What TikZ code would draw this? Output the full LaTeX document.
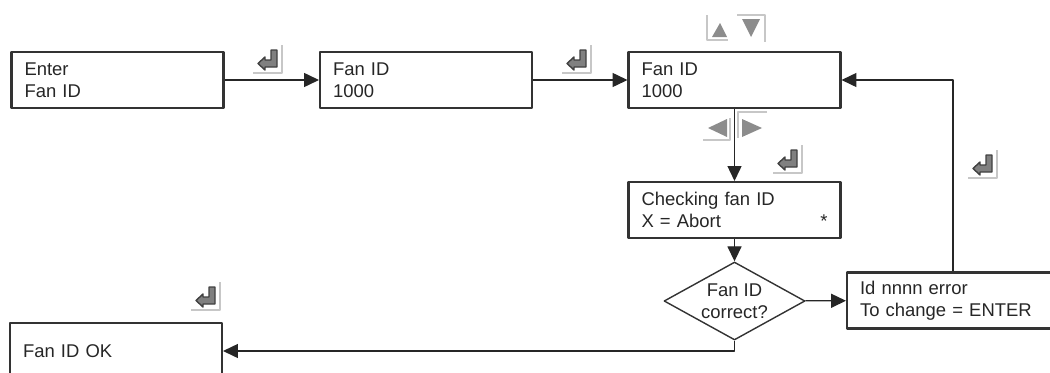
\documentclass[tikz,border=0pt]{standalone}
\usepackage{fontspec}
\setmainfont{Liberation Sans}
\usetikzlibrary{arrows.meta,shapes.geometric}

\begin{document}
\begin{tikzpicture}[x=0.02cm,y=-0.02cm,line join=round,
		screen/.style={rectangle,draw=black!80,line width=1.2pt,minimum width=4.24cm,minimum height=1.12cm,
			text width=3.72cm,inner xsep=0.26cm,align=left,text=black!85,font=\fontsize{10.5pt}{12.5pt}\selectfont},
		decision/.style={diamond,draw=black!80,line width=0.8pt,aspect=1.81,inner sep=0pt,minimum width=2.82cm,
			minimum height=1.56cm,align=center,text=black!85,font=\fontsize{10.5pt}{12.5pt}\selectfont},
		conn/.style={-{Triangle[length=8.5pt,width=8pt]},line width=0.7pt,black!85},
		keyedge/.style={draw=black!22,line width=1pt},
		keyglyph/.style={fill=black!50,draw=black!75,line width=0.8pt},
		enterkey/.pic={\draw[keyedge] (29,0)--(29,28)--(0,28);
			\filldraw[keyglyph] (18,5)--(24,5)--(24,22)--(12,22)--(12,25)--(5,18.5)--(12,12)--(12,15)--(18,15)--cycle;},
		upkey/.pic={\draw[keyedge] (0,1)--(0,26)--(21,26);
			\fill[black!45] (5,23)--(20,23)--(13,9)--cycle;},
		downkey/.pic={\draw[keyedge] (0,0)--(28,0)--(28,27);
			\fill[black!45] (5,4)--(23,4)--(14,22)--cycle;},
		leftkey/.pic={\draw[keyedge] (0,28)--(27,28)--(27,6);
			\fill[black!45] (24,7)--(24,25)--(5,16)--cycle;},
		rightkey/.pic={\draw[keyedge] (29,0)--(0,0)--(0,26);
			\fill[black!45] (4,7)--(4,25)--(24,16)--cycle;}]
	\useasboundingbox (0,0) rectangle (1050,372);
	\node[screen] (enter) at (117.5,80) {Enter\\Fan ID};
	\node[screen] (fanid) at (426,80) {Fan ID\\1000};
	\node[screen] (fanidset) at (734.5,80) {Fan ID\\1000};
	\node[screen] (check) at (734.5,210) {Checking fan ID\\X = Abort\hfill*};
	\node[decision] (correct) at (734.5,301) {Fan ID\\correct?};
	\node[screen] (error) at (953,300.5) {Id nnnn error\\To change = ENTER};
	\node[screen] (ok) at (116,351) {Fan ID OK};
	\pic at (253,45) {enterkey};
	\pic at (562,45) {enterkey};
	\pic at (773,145) {enterkey};
	\pic at (968,150) {enterkey};
	\pic at (191,282) {enterkey};
	\pic at (707,14) {upkey};
	\pic at (737,15) {downkey};
	\pic at (703,112) {leftkey};
	\pic at (738,112) {rightkey};
	\draw[conn] (enter) -- (fanid);
	\draw[conn] (fanid) -- (fanidset);
	\draw[conn] (fanidset) -- (check);
	\draw[conn] (check) -- (correct);
	\draw[conn] (correct) -- (error);
	\draw[conn] (error.north) |- (fanidset.east);
	\draw[conn] (correct.south) |- (ok.east);
\end{tikzpicture}
\end{document}
